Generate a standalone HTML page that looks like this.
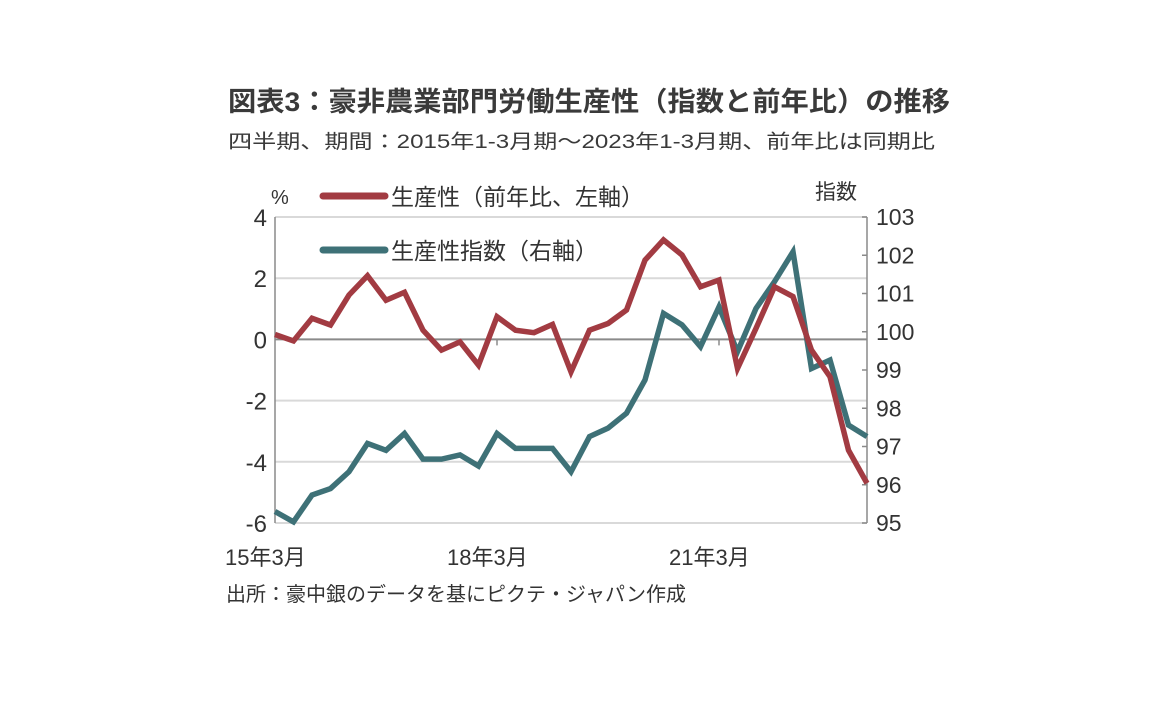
<!DOCTYPE html>
<html><head><meta charset="utf-8"><style>
body{margin:0;background:#fff;}
svg{display:block;font-family:"Liberation Sans","Noto Sans CJK JP",sans-serif;}
</style></head><body>
<svg width="1152" height="720" viewBox="0 0 1152 720">
<text x="228" y="111" font-size="27" font-weight="bold" fill="#3a3a3a" textLength="722" lengthAdjust="spacingAndGlyphs">図表3：豪非農業部門労働生産性（指数と前年比）の推移</text>
<text x="228" y="148" font-size="19.5" fill="#3a3a3a" textLength="707" lengthAdjust="spacingAndGlyphs">四半期、期間：2015年1-3月期～2023年1-3月期、前年比は同期比</text>
<g id="grid"></g>
<g id="axes"></g>
<g id="series"></g>
<text x="271" y="204" font-size="20" fill="#333">%</text>
<text x="815" y="199" font-size="21" fill="#333">指数</text>
<line x1="323" y1="196" x2="385" y2="196" stroke="#A23B42" stroke-width="7" stroke-linecap="round"/>
<text x="391" y="205" font-size="23" fill="#333">生産性（前年比、左軸）</text>
<line x1="323" y1="250" x2="385" y2="250" stroke="#3E7177" stroke-width="7" stroke-linecap="round"/>
<text x="391" y="259" font-size="23" fill="#333">生産性指数（右軸）</text>
<text x="226" y="601" font-size="20" fill="#333">出所：豪中銀のデータを基にピクテ・ジャパン作成</text>
</svg>
<script>
const yoy=[0.16,-0.05,0.69,0.47,1.45,2.08,1.28,1.54,0.3,-0.35,-0.08,-0.84,0.74,0.3,0.22,0.49,-1.06,0.3,0.52,0.96,2.59,3.25,2.76,1.72,1.94,-0.95,0.36,1.72,1.4,-0.35,-1.22,-3.62,-4.7];
const idx=[95.3,95.03,95.73,95.9,96.34,97.08,96.9,97.34,96.67,96.67,96.78,96.49,97.34,96.95,96.95,96.95,96.34,97.26,97.48,97.87,98.74,100.48,100.18,99.61,100.65,99.48,100.61,101.31,102.09,99.04,99.26,97.56,97.26];
const leftTicks=[4,2,0,-2,-4,-6];
const rightTicks=[103,102,101,100,99,98,97,96,95];
const xLabels=[[0,"15年3月"],[12,"18年3月"],[24,"21年3月"]];
const NS="http://www.w3.org/2000/svg";
const X0=275,X1=867,YT=217,YB=523;
const xs=i=>X0+(X1-X0)*i/32;
const yl=v=>YT+(4-v)*(YB-YT)/10;
const yr=v=>YT+(103-v)*(YB-YT)/8;
function mk(tag,attrs,parent){const e=document.createElementNS(NS,tag);for(const k in attrs)e.setAttribute(k,attrs[k]);document.getElementById(parent).appendChild(e);return e;}
leftTicks.forEach(v=>{
 const y=yl(v);
 const l=mk('line',{x1:X0,x2:X1,y1:y,y2:y,stroke:v===0?'#8a8a8a':'#d9d9d9','stroke-width':v===0?2:2},'grid');
 
 
 const t=mk('text',{x:X0-8,y:y+9,'font-size':24,'text-anchor':'end',fill:'#333'},'axes');
 t.textContent=v<0?'-'+Math.abs(v):String(v);
 
 
});
rightTicks.forEach(v=>{
 const y=yr(v);
 const l=mk('line',{x1:X1-5,x2:X1,y1:y,y2:y,stroke:'#8a8a8a','stroke-width':1.5},'axes');
 
 
 const t=mk('text',{x:X1+9,y:y+8,'font-size':23,fill:'#333'},'axes');
 t.textContent=v;
 
 
});
[[X0,'left-axis'],[X1,'right-axis']].forEach(([x,n])=>{
 const l=mk('line',{x1:x,x2:x,y1:YT,y2:YB,stroke:'#8a8a8a','stroke-width':1.5},'axes');
 
 
});
xLabels.forEach(([i,s])=>{
 const x=xs(i);
 if(i>0){const tk=mk('line',{x1:x,x2:x,y1:yl(0),y2:yl(0)+6,stroke:'#8a8a8a','stroke-width':1.5},'axes');
 
 }
 const t=mk('text',{x:x-50,y:565,'font-size':22,fill:'#333'},'axes');
 t.textContent=s;
 
 
});
const pi=mk('polyline',{points:idx.map((v,i)=>xs(i)+','+yr(v)).join(' '),fill:'none',stroke:'#3E7177','stroke-width':5.5,'stroke-linejoin':'miter'},'series');


const py=mk('polyline',{points:yoy.map((v,i)=>xs(i)+','+yl(v)).join(' '),fill:'none',stroke:'#A23B42','stroke-width':5.5,'stroke-linejoin':'miter'},'series');


</script>
</body></html>
